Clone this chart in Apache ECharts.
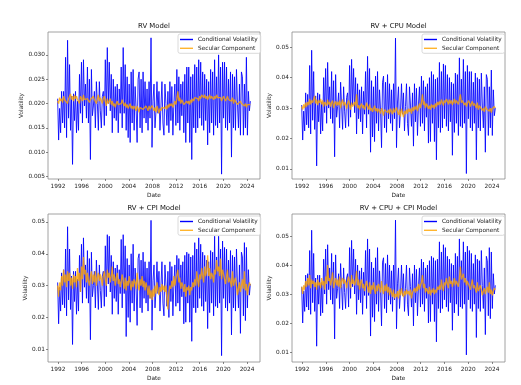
<!DOCTYPE html>
<html><head><meta charset="utf-8">
<script src="https://cdn.jsdelivr.net/npm/echarts@6/dist/echarts.min.js"></script>
<style>html,body{margin:0;padding:0;background:#fff}#c{width:521px;height:385px}</style>
</head><body><div id="c"></div>
<script>
// Time axis: 195 observations, evenly spaced from START to END (decimal years)
const START_YEAR = 1991.94, STEP_YEARS = 0.1682, N_OBS = 195;
const xTicks = [1992,1996,2000,2004,2008,2012,2016,2020,2024];
const titles = ['RV Model','RV + CPU Model','RV + CPI Model','RV + CPU + CPI Model'];
const seriesNames = ['Conditional Volatility','Secular Component'];

// RV model
const cvRV = [
.0210,.0125,.0190,.0140,.0225,.0160,
.0225,.0150,.0295,.0130,.0330,.0170,
.0280,.0145,.0215,.0075,.0220,.0165,
.0225,.0140,.0205,.0145,.0260,.0180,
.0285,.0160,.0290,.0195,.0240,.0170,
.0275,.0160,.0250,.0085,.0270,.0175,
.0195,.0225,.0150,.0245,.0200,.0145,
.0245,.0185,.0150,.0215,.0225,.0155,
.0290,.0175,.0315,.0200,.0285,.0185,
.0260,.0140,.0250,.0170,.0235,.0165,
.0240,.0140,.0230,.0180,.0275,.0150,
.0315,.0180,.0280,.0145,.0255,.0130,
.0240,.0120,.0265,.0160,.0270,.0145,
.0235,.0190,.0120,.0250,.0265,.0150,
.0250,.0140,.0265,.0170,.0245,.0160,
.0230,.0145,.0245,.0170,.0335,.0110,
.0205,.0240,.0150,.0185,.0245,.0180,
.0225,.0145,.0195,.0245,.0160,.0135,
.0240,.0200,.0155,.0225,.0140,.0245,
.0165,.0235,.0135,.0200,.0240,.0155,
.0270,.0160,.0255,.0145,.0240,.0175,
.0245,.0140,.0260,.0120,.0275,.0160,
.0275,.0120,.0255,.0085,.0260,.0150,
.0280,.0140,.0275,.0150,.0290,.0170,
.0285,.0155,.0265,.0145,.0260,.0165,
.0250,.0115,.0245,.0140,.0270,.0160,
.0265,.0135,.0290,.0155,.0255,.0150,
.0300,.0160,.0275,.0055,.0285,.0170,
.0285,.0150,.0275,.0145,.0250,.0160,
.0265,.0090,.0260,.0150,.0255,.0145,
.0270,.0200,.0150,.0240,.0135,.0265,
.0255,.0135,.0240,.0150,.0295,.0135,
.0225,.0185,.0205];
const secRV = [
.0205,.0200,.0212,.0205,.0210,.0202,
.0215,.0208,.0205,.0212,.0200,.0210,
.0212,.0220,.0208,.0215,.0205,.0218,
.0210,.0215,.0208,.0212,.0200,.0215,
.0210,.0205,.0218,.0208,.0212,.0205,
.0210,.0212,.0202,.0208,.0210,.0205,
.0215,.0208,.0212,.0200,.0210,.0218,
.0205,.0212,.0208,.0200,.0210,.0215,
.0205,.0195,.0210,.0200,.0205,.0210,
.0198,.0205,.0195,.0200,.0192,.0200,
.0205,.0198,.0202,.0195,.0200,.0208,
.0200,.0195,.0202,.0192,.0198,.0190,
.0195,.0200,.0190,.0195,.0188,.0195,
.0192,.0185,.0195,.0190,.0182,.0192,
.0190,.0195,.0188,.0192,.0185,.0195,
.0192,.0185,.0195,.0188,.0192,.0196,
.0190,.0185,.0192,.0182,.0195,.0188,
.0180,.0190,.0185,.0192,.0188,.0195,
.0190,.0195,.0188,.0198,.0192,.0200,
.0195,.0200,.0192,.0198,.0205,.0198,
.0210,.0225,.0205,.0212,.0200,.0208,
.0205,.0198,.0202,.0195,.0205,.0200,
.0205,.0198,.0208,.0202,.0210,.0205,
.0212,.0208,.0215,.0210,.0205,.0215,
.0210,.0218,.0222,.0212,.0218,.0210,
.0215,.0208,.0212,.0218,.0210,.0215,
.0212,.0208,.0215,.0210,.0218,.0212,
.0215,.0208,.0212,.0205,.0210,.0215,
.0212,.0205,.0210,.0215,.0208,.0212,
.0210,.0205,.0212,.0200,.0208,.0210,
.0205,.0198,.0202,.0195,.0205,.0200,
.0198,.0202,.0195,.0200,.0192,.0198,
.0195,.0200,.0198];

// RV + CPU model
const cvCPU = [
.0310,.0195,.0290,.0225,.0350,.0245,
.0345,.0235,.0440,.0215,.0490,.0260,
.0420,.0230,.0340,.0110,.0350,.0255,
.0345,.0215,.0320,.0225,.0400,.0285,
.0430,.0250,.0450,.0300,.0370,.0265,
.0420,.0250,.0390,.0140,.0410,.0270,
.0305,.0350,.0235,.0385,.0310,.0230,
.0370,.0290,.0235,.0335,.0350,.0240,
.0440,.0270,.0460,.0310,.0430,.0285,
.0400,.0215,.0380,.0265,.0360,.0255,
.0370,.0215,.0355,.0280,.0420,.0235,
.0470,.0280,.0430,.0155,.0390,.0205,
.0370,.0190,.0405,.0250,.0420,.0225,
.0360,.0295,.0170,.0385,.0405,.0235,
.0385,.0220,.0410,.0265,.0380,.0250,
.0360,.0225,.0380,.0265,.0530,.0170,
.0320,.0370,.0235,.0290,.0380,.0280,
.0350,.0225,.0305,.0380,.0250,.0210,
.0370,.0310,.0240,.0350,.0175,.0380,
.0255,.0365,.0210,.0310,.0370,.0240,
.0405,.0250,.0390,.0225,.0370,.0270,
.0380,.0185,.0400,.0190,.0420,.0250,
.0410,.0190,.0395,.0130,.0400,.0235,
.0450,.0220,.0420,.0235,.0445,.0265,
.0440,.0240,.0410,.0225,.0400,.0255,
.0385,.0145,.0380,.0220,.0415,.0250,
.0410,.0210,.0465,.0240,.0395,.0235,
.0460,.0250,.0420,.0085,.0440,.0265,
.0420,.0235,.0420,.0225,.0385,.0250,
.0415,.0130,.0400,.0235,.0395,.0225,
.0415,.0310,.0235,.0370,.0155,.0410,
.0395,.0210,.0370,.0235,.0425,.0210,
.0360,.0275,.0300];
const secCPU = [
.0305,.0295,.0312,.0300,.0318,.0305,
.0320,.0310,.0330,.0312,.0325,.0318,
.0322,.0340,.0315,.0328,.0310,.0325,
.0318,.0330,.0312,.0325,.0305,.0320,
.0315,.0308,.0328,.0312,.0320,.0305,
.0318,.0325,.0300,.0315,.0322,.0308,
.0320,.0310,.0325,.0300,.0318,.0328,
.0308,.0320,.0312,.0298,.0315,.0325,
.0310,.0295,.0318,.0305,.0312,.0320,
.0305,.0345,.0300,.0310,.0295,.0308,
.0315,.0300,.0310,.0295,.0305,.0318,
.0305,.0295,.0312,.0292,.0300,.0288,
.0298,.0308,.0290,.0300,.0285,.0298,
.0295,.0282,.0300,.0290,.0275,.0295,
.0290,.0300,.0285,.0295,.0280,.0298,
.0292,.0280,.0300,.0285,.0295,.0302,
.0288,.0278,.0295,.0272,.0298,.0285,
.0270,.0290,.0280,.0295,.0282,.0298,
.0288,.0298,.0282,.0302,.0290,.0305,
.0295,.0308,.0290,.0302,.0315,.0300,
.0318,.0345,.0310,.0322,.0300,.0315,
.0310,.0298,.0308,.0295,.0312,.0302,
.0310,.0298,.0315,.0305,.0320,.0310,
.0322,.0312,.0328,.0318,.0308,.0325,
.0318,.0330,.0322,.0312,.0328,.0315,
.0325,.0310,.0320,.0330,.0315,.0325,
.0320,.0312,.0328,.0345,.0318,.0325,
.0322,.0310,.0318,.0305,.0315,.0325,
.0318,.0305,.0315,.0322,.0308,.0315,
.0312,.0300,.0318,.0295,.0308,.0312,
.0305,.0292,.0300,.0288,.0305,.0298,
.0295,.0302,.0290,.0300,.0285,.0298,
.0292,.0305,.0300];

// RV + CPI model
const cvCPI = [
.0310,.0180,.0295,.0220,.0340,.0240,
.0350,.0230,.0415,.0205,.0485,.0255,
.0415,.0225,.0330,.0115,.0345,.0250,
.0345,.0210,.0320,.0220,.0395,.0280,
.0430,.0245,.0450,.0295,.0365,.0260,
.0410,.0245,.0385,.0130,.0405,.0265,
.0300,.0345,.0230,.0380,.0305,.0225,
.0365,.0285,.0230,.0330,.0345,.0235,
.0425,.0265,.0460,.0305,.0455,.0280,
.0395,.0210,.0375,.0260,.0355,.0250,
.0365,.0210,.0350,.0275,.0445,.0230,
.0460,.0275,.0425,.0140,.0385,.0200,
.0365,.0185,.0400,.0245,.0430,.0220,
.0355,.0290,.0175,.0385,.0400,.0230,
.0380,.0215,.0405,.0260,.0375,.0245,
.0355,.0220,.0375,.0260,.0505,.0160,
.0315,.0365,.0230,.0285,.0375,.0275,
.0345,.0220,.0300,.0375,.0245,.0205,
.0365,.0305,.0235,.0345,.0200,.0375,
.0250,.0360,.0205,.0305,.0365,.0235,
.0395,.0245,.0385,.0220,.0365,.0265,
.0375,.0180,.0395,.0185,.0405,.0245,
.0400,.0185,.0390,.0125,.0395,.0230,
.0435,.0215,.0415,.0230,.0450,.0260,
.0430,.0235,.0405,.0220,.0395,.0250,
.0380,.0165,.0375,.0215,.0410,.0245,
.0405,.0205,.0455,.0235,.0390,.0230,
.0455,.0245,.0415,.0080,.0440,.0260,
.0420,.0230,.0415,.0220,.0380,.0245,
.0410,.0145,.0395,.0230,.0390,.0220,
.0415,.0305,.0230,.0365,.0150,.0405,
.0390,.0205,.0435,.0190,.0420,.0230,
.0350,.0270,.0305];
const secCPI = [
.0300,.0265,.0310,.0285,.0330,.0300,
.0350,.0310,.0335,.0295,.0345,.0315,
.0340,.0300,.0325,.0290,.0335,.0310,
.0330,.0295,.0355,.0315,.0340,.0280,
.0360,.0320,.0390,.0335,.0350,.0310,
.0340,.0315,.0300,.0330,.0345,.0305,
.0335,.0310,.0345,.0300,.0325,.0340,
.0315,.0335,.0320,.0300,.0330,.0345,
.0320,.0300,.0350,.0325,.0340,.0310,
.0330,.0360,.0315,.0335,.0300,.0325,
.0340,.0305,.0320,.0295,.0315,.0335,
.0310,.0290,.0325,.0285,.0315,.0300,
.0330,.0305,.0285,.0315,.0295,.0320,
.0310,.0290,.0340,.0305,.0285,.0320,
.0300,.0330,.0295,.0315,.0285,.0310,
.0295,.0270,.0300,.0260,.0285,.0255,
.0290,.0265,.0300,.0275,.0310,.0285,
.0270,.0295,.0280,.0305,.0285,.0300,
.0280,.0300,.0260,.0225,.0280,.0300,
.0290,.0315,.0295,.0330,.0300,.0320,
.0335,.0350,.0310,.0325,.0290,.0310,
.0300,.0280,.0305,.0265,.0295,.0285,
.0300,.0270,.0295,.0285,.0310,.0295,
.0320,.0300,.0345,.0315,.0295,.0335,
.0320,.0355,.0330,.0310,.0360,.0330,
.0345,.0395,.0330,.0355,.0320,.0340,
.0330,.0310,.0350,.0335,.0380,.0345,
.0360,.0330,.0385,.0320,.0350,.0335,
.0340,.0305,.0330,.0350,.0310,.0325,
.0320,.0295,.0345,.0300,.0315,.0325,
.0300,.0270,.0290,.0310,.0280,.0300,
.0320,.0290,.0345,.0285,.0305,.0270,
.0295,.0310,.0300];

// RV + CPU + CPI model
const cvAll = [
.0325,.0200,.0310,.0240,.0365,.0255,
.0370,.0245,.0450,.0230,.0520,.0270,
.0440,.0240,.0355,.0120,.0365,.0265,
.0365,.0225,.0340,.0235,.0420,.0300,
.0455,.0265,.0470,.0315,.0390,.0280,
.0440,.0265,.0410,.0145,.0435,.0285,
.0320,.0370,.0250,.0405,.0325,.0245,
.0390,.0305,.0250,.0355,.0370,.0255,
.0460,.0285,.0485,.0325,.0455,.0300,
.0420,.0230,.0400,.0280,.0380,.0270,
.0390,.0230,.0375,.0295,.0450,.0250,
.0490,.0295,.0455,.0155,.0410,.0220,
.0390,.0205,.0425,.0265,.0460,.0240,
.0380,.0310,.0190,.0410,.0425,.0250,
.0405,.0235,.0435,.0280,.0400,.0265,
.0380,.0240,.0400,.0280,.0555,.0180,
.0335,.0390,.0250,.0305,.0400,.0295,
.0370,.0240,.0320,.0400,.0265,.0225,
.0390,.0325,.0255,.0370,.0190,.0400,
.0270,.0385,.0225,.0325,.0390,.0255,
.0420,.0265,.0410,.0240,.0390,.0285,
.0400,.0200,.0415,.0205,.0430,.0265,
.0425,.0205,.0415,.0135,.0420,.0250,
.0480,.0235,.0445,.0250,.0470,.0280,
.0460,.0255,.0430,.0240,.0420,.0270,
.0405,.0175,.0400,.0235,.0440,.0265,
.0430,.0225,.0490,.0255,.0415,.0250,
.0480,.0265,.0445,.0090,.0465,.0280,
.0450,.0250,.0440,.0240,.0405,.0265,
.0435,.0150,.0420,.0250,.0415,.0240,
.0450,.0330,.0250,.0390,.0160,.0430,
.0415,.0225,.0460,.0215,.0445,.0250,
.0370,.0300,.0330];
const secAll = [
.0325,.0300,.0330,.0315,.0345,.0325,
.0355,.0330,.0365,.0320,.0350,.0335,
.0345,.0325,.0340,.0315,.0350,.0330,
.0340,.0320,.0355,.0330,.0345,.0315,
.0360,.0335,.0400,.0345,.0355,.0330,
.0350,.0375,.0320,.0340,.0355,.0330,
.0350,.0325,.0360,.0320,.0345,.0355,
.0335,.0350,.0340,.0320,.0345,.0360,
.0340,.0320,.0365,.0335,.0350,.0330,
.0345,.0380,.0330,.0350,.0315,.0340,
.0350,.0320,.0335,.0310,.0330,.0345,
.0325,.0305,.0340,.0300,.0330,.0315,
.0340,.0315,.0300,.0330,.0310,.0335,
.0320,.0305,.0345,.0315,.0300,.0330,
.0310,.0335,.0305,.0325,.0295,.0320,
.0305,.0290,.0315,.0285,.0300,.0290,
.0310,.0285,.0315,.0295,.0320,.0300,
.0290,.0310,.0295,.0315,.0300,.0310,
.0295,.0315,.0285,.0305,.0300,.0320,
.0305,.0325,.0310,.0335,.0315,.0330,
.0340,.0365,.0320,.0335,.0305,.0320,
.0315,.0300,.0325,.0295,.0315,.0305,
.0320,.0300,.0315,.0305,.0325,.0315,
.0330,.0315,.0350,.0325,.0310,.0340,
.0330,.0355,.0335,.0320,.0360,.0335,
.0345,.0325,.0340,.0355,.0330,.0345,
.0340,.0325,.0355,.0395,.0350,.0360,
.0370,.0340,.0355,.0330,.0345,.0335,
.0340,.0315,.0335,.0350,.0320,.0330,
.0325,.0305,.0340,.0310,.0320,.0330,
.0315,.0295,.0310,.0320,.0300,.0315,
.0325,.0305,.0340,.0300,.0315,.0295,
.0310,.0320,.0315];

// y-axis tick labels per panel
const yTicksRV = [0.005,0.010,0.015,0.020,0.025,0.030];
const yTicks2 = [0.01,0.02,0.03,0.04,0.05];

const dates = [];
for (let i = 0; i < N_OBS; i++) dates.push(START_YEAR + i * STEP_YEARS);

const panels = [
  {cv: cvRV,  sec: secRV,  ticks: yTicksRV, dec: 3, min: 0.0045, max: 0.0347, grid: {left: 48, top: 32, width: 212, height: 147}, nameGap: 23},
  {cv: cvCPU, sec: secCPU, ticks: yTicks2,  dec: 2, min: 0.0067, max: 0.0550, grid: {left: 292, top: 32, width: 213, height: 147}, nameGap: 19},
  {cv: cvCPI, sec: secCPI, ticks: yTicks2,  dec: 2, min: 0.0060, max: 0.0525, grid: {left: 48, top: 214, width: 212, height: 148}, nameGap: 19},
  {cv: cvAll, sec: secAll, ticks: yTicks2,  dec: 2, min: 0.00655, max: 0.0576, grid: {left: 292, top: 214, width: 213, height: 148}, nameGap: 19}
];

const FONT = 'DejaVu Sans';
const BLUE = '#0000ff', ORANGE = 'rgba(255,165,0,0.82)';
const opt = {animation: false, backgroundColor: '#fff', textStyle: {fontFamily: FONT},
  title: [], grid: [], xAxis: [], yAxis: [], series: [], legend: []};

panels.forEach((p, k) => {
  opt.grid.push(Object.assign({show: true, borderColor: '#8a8a8a', borderWidth: 0.8, backgroundColor: 'transparent'}, p.grid));
  const cx = p.grid.left + p.grid.width / 2;
  opt.title.push({text: titles[k], left: cx, textAlign: 'center', top: p.grid.top - 9.5, padding: 0,
    textStyle: {fontFamily: FONT, fontSize: 6.9, fontWeight: 'normal', color: '#111'}});
  opt.xAxis.push({type: 'value', gridIndex: k, min: 1990.31, max: 2026.2,
    name: 'Date', nameLocation: 'middle', nameGap: 13,
    nameTextStyle: {fontFamily: FONT, fontSize: 5.8, color: '#222'},
    axisLine: {show: false}, splitLine: {show: false},
    axisTick: {show: true, length: 2, customValues: xTicks, lineStyle: {color: '#555', width: 0.7}},
    axisLabel: {customValues: xTicks, margin: 4, fontFamily: FONT, fontSize: 5.8, color: '#222', formatter: v => String(Math.round(v))}});
  opt.yAxis.push({type: 'value', gridIndex: k, min: p.min, max: p.max,
    name: 'Volatility', nameLocation: 'middle', nameGap: p.nameGap, nameRotate: 90,
    nameTextStyle: {fontFamily: FONT, fontSize: 5.8, color: '#222'},
    axisLine: {show: false}, splitLine: {show: false},
    axisTick: {show: true, length: 2, customValues: p.ticks, lineStyle: {color: '#555', width: 0.7}},
    axisLabel: {customValues: p.ticks, margin: 3, fontFamily: FONT, fontSize: 5.8, color: '#222', formatter: v => v.toFixed(p.dec)}});
  opt.series.push({type: 'line', name: seriesNames[0], xAxisIndex: k, yAxisIndex: k, showSymbol: false, symbol: 'none',
    data: dates.map((d, i) => [d, p.cv[i]]), lineStyle: {color: BLUE, width: 0.85}, itemStyle: {color: BLUE}, z: 2});
  opt.series.push({type: 'line', name: seriesNames[1], xAxisIndex: k, yAxisIndex: k, showSymbol: false, symbol: 'none',
    data: dates.map((d, i) => [d, p.sec[i]]), lineStyle: {color: ORANGE, width: 1.3}, itemStyle: {color: ORANGE}, z: 3});
  opt.legend.push({data: seriesNames, orient: 'vertical', left: p.grid.left + 130, top: p.grid.top + 2,
    icon: 'rect', itemWidth: 13, itemHeight: 1.4, itemGap: 2.8, padding: [2.5, 3, 2, 2],
    borderColor: '#d0d0d0', borderWidth: 0.8, borderRadius: 2, backgroundColor: 'rgba(255,255,255,0.85)',
    textStyle: {fontFamily: FONT, fontSize: 5.8, color: '#222'}, selectedMode: false, z: 10});
});

const chart = echarts.init(document.getElementById('c'), null, {renderer: 'canvas'});
chart.setOption(opt);
</script></body></html>
